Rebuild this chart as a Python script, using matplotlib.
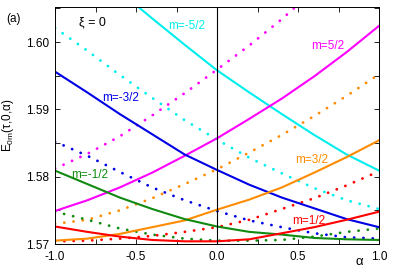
import matplotlib
matplotlib.use("Agg")
import matplotlib.pyplot as plt
from matplotlib.ticker import MultipleLocator, FormatStrFormatter

plt.rcParams["font.family"] = ["Liberation Sans", "DejaVu Sans"]
plt.rcParams["axes.unicode_minus"] = False

alpha = [-1.0, -0.8, -0.6, -0.4, -0.2, 0.0, 0.2, 0.4, 0.6, 0.8, 1.0]

# solid curves
e_m52 = [1.6163, 1.6118, 1.6075, 1.6035, 1.5996, 1.5958, 1.5925, 1.5893, 1.5862, 1.5833, 1.5809]
e_p52 = [1.5749, 1.5765, 1.5784, 1.5806, 1.5831, 1.5857, 1.5886, 1.5916, 1.5949, 1.5985, 1.6024]
e_m32 = [1.5956, 1.5925, 1.5893, 1.5863, 1.5833, 1.5810, 1.5788, 1.5769, 1.5753, 1.5737, 1.5725]
e_p32 = [1.5705, 1.5708, 1.5715, 1.5725, 1.5735, 1.5751, 1.5766, 1.5784, 1.5806, 1.5829, 1.5854]
e_m12 = [1.5809, 1.5789, 1.5769, 1.5752, 1.5737, 1.5726, 1.5718, 1.5714, 1.5709, 1.5707, 1.5706]
e_p12 = [1.5726, 1.5718, 1.5711, 1.5706, 1.5704, 1.5704, 1.5707, 1.5716, 1.5725, 1.5736, 1.5748]

# dotted curves
d_m52 = [1.6021, 1.5987, 1.5951, 1.5917, 1.5884, 1.5855, 1.5828, 1.5805, 1.5783, 1.5765, 1.5752]
d_p52 = [1.5812, 1.5834, 1.5860, 1.5891, 1.5924, 1.5959, 1.5995, 1.6034, 1.6077, 1.6123, 1.6171]
d_m32 = [1.5852, 1.5831, 1.5807, 1.5784, 1.5765, 1.5749, 1.5735, 1.5725, 1.5716, 1.5710, 1.5708]
d_p32 = [1.5730, 1.5736, 1.5750, 1.5768, 1.5789, 1.5811, 1.5836, 1.5862, 1.5890, 1.5920, 1.5952]
d_m12 = [1.5748, 1.5736, 1.5723, 1.5714, 1.5708, 1.5705, 1.5705, 1.5706, 1.5711, 1.5718, 1.5723]
d_p12 = [1.5704, 1.5705, 1.5708, 1.5712, 1.5718, 1.5725, 1.5736, 1.5752, 1.5768, 1.5787, 1.5808]

labels = ["m=-5/2", "m=5/2", "m=-3/2", "m=3/2", "m=-1/2", "m=1/2"]
colors = ["#00eeee", "#ff00ff", "#0000e6", "#ff8c00", "#108a10", "#ff0000"]

solid = [e_m52, e_p52, e_m32, e_p32, e_m12, e_p12]
dotted = [d_m52, d_p52, d_m32, d_p32, d_m12, d_p12]

fig = plt.figure(figsize=(3.96, 2.73), dpi=100)
ax = fig.add_axes([0.1389, 0.1062, 0.8182, 0.8681])

for ys, c in zip(dotted, colors):
    ax.plot(alpha, ys, color=c, linewidth=2.0,
            linestyle=(0, (0.05, 3.3)), dash_capstyle="round")

for ys, c in zip(solid, colors):
    ax.plot(alpha, ys, color=c, linewidth=1.5)

ax.axvline(0.0, color="black", linewidth=0.8)

ax.set_xlim(-1.0, 1.0)
ax.set_ylim(1.57, 1.6052)

ax.xaxis.set_major_locator(MultipleLocator(0.5))
ax.xaxis.set_minor_locator(MultipleLocator(0.25))
ax.yaxis.set_major_locator(MultipleLocator(0.01))
ax.yaxis.set_minor_locator(MultipleLocator(0.005))
ax.xaxis.set_major_formatter(FormatStrFormatter("%.1f"))
ax.yaxis.set_major_formatter(FormatStrFormatter("%.2f"))

ax.tick_params(which="both", direction="in", top=True, right=True,
               length=3.5, width=0.6, labelsize=8.5)
ax.tick_params(axis="x", pad=5)
ax.tick_params(axis="y", pad=4)

for s in ax.spines.values():
    s.set_linewidth(0.7)

# curve labels
label_pos = [(-0.19, 1.6024), (0.685, 1.5994), (-0.593, 1.5917),
             (0.586, 1.5825), (-0.784, 1.5803), (0.568, 1.5734)]
for (lx, ly), t, c in zip(label_pos, labels, colors):
    ax.text(lx, ly, t, color=c, fontsize=8.5, ha="center", va="center")

ax.text(-0.772, 1.6030, "ξ = 0", fontsize=9, ha="center", va="center")

ax.set_ylabel("E$_\\mathregular{0m}$(τ,0,α)", fontsize=8.5)
ax.yaxis.set_label_coords(-0.12, 0.5)
fig.text(359 / 396, 1 - 262 / 273, "α", fontsize=9.5, ha="center", va="center")
fig.text(13 / 396, 1 - 19 / 273, "(a)", fontsize=8.5, ha="center", va="center")

fig.savefig("out.png", dpi=100)
